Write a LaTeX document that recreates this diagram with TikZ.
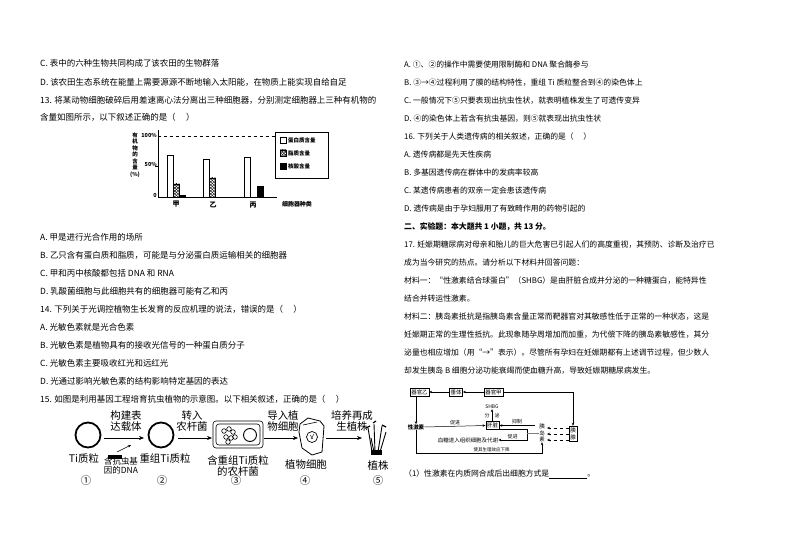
\documentclass[tikz,border=0pt]{standalone}
\usepackage{fontspec}
\setmainfont{Noto Sans CJK SC}
\usetikzlibrary{arrows.meta,patterns}
\begin{document}
\begin{tikzpicture}[x=1bp,y=-1bp,
  tx/.style={anchor=west,inner sep=0pt,font=\fontsize{7.85}{9}\selectfont},
  lx/.style={anchor=west,inner sep=0pt,font=\fontsize{8.5}{9}\selectfont},
  big/.style={inner sep=0pt,font=\fontsize{10.5}{11.5}\selectfont,align=center},
  sm/.style={inner sep=0pt,font=\fontsize{5}{6}\selectfont},
  fbox/.style={draw,inner sep=1.2pt,font=\fontsize{5.5}{6}\selectfont,minimum height=8bp},
  arr/.style={-{Stealth[length=3bp,width=2.5bp]},line width=0.5pt},
  barr/.style={-{Stealth[length=5bp,width=4bp]},line width=0.6pt}]
\useasboundingbox[fill=white] (0,0) rectangle (794,560);
% left column
\node[lx] (l1) at (40,63) {C. 表中的六种生物共同构成了该农田的生物群落};
\node[lx] (l2) at (40,82) {D. 该农田生态系统在能量上需要源源不断地输入太阳能，在物质上能实现自给自足};
\node[lx] (l3) at (40,100) {13. 将某动物细胞破碎后用差速离心法分离出三种细胞器，分别测定细胞器上三种有机物的};
\node[lx] (l4) at (40,117) {含量如图所示，以下叙述正确的是（\quad\ ）};
\node[lx] (l5) at (40,237) {A. 甲是进行光合作用的场所};
\node[lx] (l6) at (40,255) {B. 乙只含有蛋白质和脂质，可能是与分泌蛋白质运输相关的细胞器};
\node[lx] (l7) at (40,273) {C. 甲和丙中核酸都包括 DNA 和 RNA};
\node[lx] (l8) at (40,291) {D. 乳酸菌细胞与此细胞共有的细胞器可能有乙和丙};
\node[lx] (l9) at (40,309) {14. 下列关于光调控植物生长发育的反应机理的说法，错误的是（\quad\ ）};
\node[lx] (l10) at (40,327) {A. 光敏色素就是光合色素};
\node[lx] (l11) at (40,345) {B. 光敏色素是植物具有的接收光信号的一种蛋白质分子};
\node[lx] (l12) at (40,363) {C. 光敏色素主要吸收红光和远红光};
\node[lx] (l13) at (40,381) {D. 光通过影响光敏色素的结构影响特定基因的表达};
\node[lx] (l14) at (40,399) {15. 如图是利用基因工程培育抗虫植物的示意图。以下相关叙述，正确的是（\quad\ ）};
% chart
\draw[line width=0.8pt] (158,130) -- (158,197) -- (277,197);
\draw[dashed,line width=0.6pt] (158,136) -- (275,136);
\draw (155,166) -- (158,166);
\node[sm,anchor=east,font=\bfseries\fontsize{5.5}{6}\selectfont] (p100) at (157,135) {100\%};
\node[sm,anchor=east,font=\bfseries\fontsize{5.5}{6}\selectfont] (p50) at (157,164) {50\%};
\node[sm,anchor=east,font=\bfseries\fontsize{5.5}{6}\selectfont] (p0) at (157,196) {0};
\node[sm,align=center,font=\bfseries\fontsize{5.5}{6.6}\selectfont] (ylab) at (135,155) {有\\机\\物\\的\\含\\量\\(\%)};
\draw (167,197) rectangle (173,155);
\draw[pattern=crosshatch] (173,197) rectangle (179,184);
\draw[fill=black] (179,197) rectangle (185,195);
\draw (203,197) rectangle (209,159);
\draw[pattern=crosshatch] (209,197) rectangle (215,178);
\draw (244,197) rectangle (250,157);
\draw[fill=black] (257,197) rectangle (263,186);
\node[sm,font=\bfseries\fontsize{7}{8}\selectfont] (xa) at (176,204) {甲};
\node[sm,font=\bfseries\fontsize{7}{8}\selectfont] (xb) at (213,205) {乙};
\node[sm,font=\bfseries\fontsize{7}{8}\selectfont] (xc) at (253,205) {丙};
\node[sm,font=\bfseries\fontsize{6}{7}\selectfont] (xl) at (297,204) {细胞器种类};
\draw[line width=0.6pt] (275,132) rectangle (328,178);
\draw (280,137) rectangle (286,143);
\draw[pattern=crosshatch] (280,150) rectangle (286,156);
\draw[fill=black] (280,163) rectangle (286,169);
\node[sm,anchor=west,font=\bfseries\fontsize{5.5}{6}\selectfont] (lg1) at (288,140) {蛋白质含量};
\node[sm,anchor=west,font=\bfseries\fontsize{5.5}{6}\selectfont] (lg2) at (288,153) {脂质含量};
\node[sm,anchor=west,font=\bfseries\fontsize{5.5}{6}\selectfont] (lg3) at (288,166) {核酸含量};
% Ti diagram
\node[circle,draw,line width=1.8pt,minimum size=25bp,inner sep=0pt] (c1) at (88,435) {};
\node[circle,draw,line width=1.8pt,minimum size=25bp,inner sep=0pt] (c2) at (161,435) {};
\draw[barr] (104,438) -- (144,438);
\node[big] (t1) at (126,421) {构建表\\达载体};
\draw[arr] (117,452) -- (131,445);
\draw[fill=black] (108,455) rectangle (121,458);
\node[big] (n1) at (84,459) {Ti质粒};
\node[big,font=\fontsize{8.5}{9}\selectfont] (n1b) at (121,466) {含抗虫基\\因的DNA};
\node[big] (k1) at (86,481) {①};
\node[big] (n2) at (165,459) {重组Ti质粒};
\node[big] (k2) at (162,481) {②};
\draw[barr] (178,438) -- (212,438);
\node[big] (t2) at (192,421) {转入\\农杆菌};
\draw[rounded corners=3pt,line width=0.6pt] (213,421) rectangle (263,448);
\draw[rounded corners=3pt,line width=0.6pt] (216,424) rectangle (260,445);
\node[circle,draw,line width=0.9pt,minimum size=13bp,inner sep=0pt] (pc) at (250,435) {};
\foreach \a/\b in {224/431,229/429,233/432,226/437,231/438,235/437,228/442}
  \draw[line width=0.6pt] (\a,\b) circle (2.3);
\node[big] (n3) at (238,466) {含重组Ti质粒\\的农杆菌};
\node[big] (k3) at (236,481) {③};
\draw[barr] (264,438) -- (298,438);
\node[big] (t3) at (283,421) {导入植\\物细胞};
\draw[line width=0.8pt] (300,424) -- (308,418) -- (320,421) -- (324,426) -- (322,452) -- (312,455) -- (302,448) -- (299,432) -- cycle;
\draw[line width=0.6pt] (303,425) -- (317,422);
\node[circle,draw,line width=0.7pt,minimum size=11bp,inner sep=0pt] (nu) at (312,437) {};
\draw (310,435) -- (313,439) (314,434) -- (311,439);
\node[big] (n4) at (306,465) {植物细胞};
\node[big] (k4) at (305,481) {④};
\draw[barr] (326,438) -- (362,438);
\node[big] (t4) at (352,421) {培养再成\\生植株};
\foreach \a/\b/\c/\d in {372/452/368/428,375/452/374/424,378/452/382/426,380/452/386/432,374/452/371/438}
  \draw[line width=0.9pt] (\a,\b) -- (\c,\d);
\draw[fill=black] (371,450) rectangle (381,454);
\draw[line width=1.2pt] (366,428) -- (370,426) (382,425) -- (386,427) (373,423) -- (376,421);
\node[big] (n5) at (378,465) {植株};
\node[big] (k5) at (378,481) {⑤};
% right column
\node[tx] (r1) at (404,65) {A. ①、②的操作中需要使用限制酶和 DNA 聚合酶参与};
\node[tx] (r2) at (404,83) {B. ③→④过程利用了膜的结构特性，重组 Ti 质粒整合到④的染色体上};
\node[tx] (r3) at (404,101) {C. 一般情况下⑤只要表现出抗虫性状，就表明植株发生了可遗传变异};
\node[tx] (r4) at (404,119) {D. ④的染色体上若含有抗虫基因，则⑤就表现出抗虫性状};
\node[tx] (r5) at (404,137) {16. 下列关于人类遗传病的相关叙述，正确的是（\quad\ ）};
\node[tx] (r6) at (404,155) {A. 遗传病都是先天性疾病};
\node[tx] (r7) at (404,173) {B. 多基因遗传病在群体中的发病率较高};
\node[tx] (r8) at (404,191) {C. 某遗传病患者的双亲一定会患该遗传病};
\node[tx] (r9) at (404,209) {D. 遗传病是由于孕妇服用了有致畸作用的药物引起的};
\node[tx,font=\bfseries\fontsize{7.85}{9}\selectfont] (r10) at (404,227) {二、实验题：本大题共 1 小题，共 13 分。};
\node[tx] (r11) at (404,245) {17. 妊娠期糖尿病对母亲和胎儿的巨大危害已引起人们的高度重视，其预防、诊断及治疗已};
\node[tx] (r12) at (404,263) {成为当今研究的热点。请分析以下材料并回答问题：};
\node[tx] (r13) at (404,281) {材料一：“性激素结合球蛋白”（SHBG）是由肝脏合成并分泌的一种糖蛋白，能特异性};
\node[tx] (r14) at (404,299) {结合并转运性激素。};
\node[tx] (r15) at (404,317) {材料二：胰岛素抵抗是指胰岛素含量正常而靶器官对其敏感性低于正常的一种状态，这是};
\node[tx] (r16) at (404,335) {妊娠期正常的生理性抵抗。此现象随孕周增加而加重，为代偿下降的胰岛素敏感性，其分};
\node[tx] (r17) at (404,353) {泌量也相应增加（用“→”表示）。尽管所有孕妇在妊娠期都有上述调节过程，但少数人};
\node[tx] (r18) at (404,371) {却发生胰岛 B 细胞分泌功能衰竭而使血糖升高，导致妊娠期糖尿病发生。};
\node[tx] (r19) at (404,474) {（1）性激素在内质网合成后出细胞方式是\underline{\hspace{38bp}}。};
% flowchart
\node[fbox] (gy) at (419.5,392) {器官乙};
\node[fbox] (ct) at (456,392) {垂体};
\node[fbox] (gj) at (493.5,392) {器官甲};
\node[fbox,align=center,font=\fontsize{5.5}{7}\selectfont,inner sep=1.5pt] (yx) at (573,433.5) {胰\\腺};
\node[sm,font=\bfseries\fontsize{5.5}{6}\selectfont] (xjs) at (416,427) {性激素};
\node[fbox] (gz) at (492.5,425.5) {肝脏};
\node[sm] (shbg) at (492,407) {SHBG};
\node[sm,align=center,font=\fontsize{5.5}{6.5}\selectfont] (yds) at (542,433) {胰\\岛\\素};
\node[sm,font=\fontsize{5.5}{6}\selectfont] (xt) at (468,440) {血糖进入组织细胞及代谢};
\coordinate (bk) at (527,433.5);
\draw[arr] (gj) -- (ct);
\draw[arr] (ct) -- (gy);
\draw[arr] (gj.east) -| (yx.north);
\draw[arr] (gy.south -| xjs) -- (xjs.north);
\draw[arr] (xjs.east) -- node[sm,above=1pt] {促进} (gz.west);
\draw[arr] (gz.north -| shbg) -- node[sm,pos=0.45] {分\hspace{5bp}泌} (shbg.south);
\draw[arr] (535,425.5) -- node[sm,above=1pt] {抑制} (gz.east);
\draw[arr] (gz.east |- 0,429) -- (527,429) -- (527,440) -- node[sm,above=1pt] {促进} (xt.east);
\draw[gray] (bk) -- (yds.west |- bk);
\draw[arr,dashed] (yx.west |- 0,428) -- (547,428);
\draw[arr,dashed] (yx.west |- 0,434) -- (547,434);
\draw[arr,dashed] (yx.west |- 0,440) -- (547,440);
\draw[arr] (xjs.south) -- (416,453) -| node[sm,pos=0.3,above=0.5pt,font=\fontsize{4.5}{5}\selectfont] {使其生理效应下降} (yds.south);
\end{tikzpicture}
\end{document}
